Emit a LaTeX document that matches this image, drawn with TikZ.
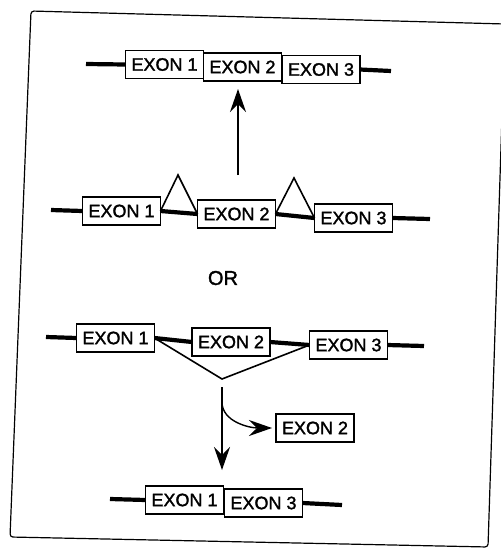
\documentclass[tikz,border=0pt]{standalone}
\usepackage{fontspec}
\setsansfont{Liberation Sans}
\newfontfamily\exonfont{Liberation Sans}[FakeBold=1.6]
\usetikzlibrary{arrows.meta,positioning}

\begin{document}
\begin{tikzpicture}[x=1pt, y=-1pt, font=\exonfont\fontsize{18}{21}\selectfont,
    exon/.style={draw, line width=1.2pt, fill=white, minimum width=78pt,
      minimum height=28pt, inner sep=1pt, outer sep=0pt},
    dna/.style={line width=4.2pt},
    intron/.style={line width=1.6pt, line join=miter},
    arr/.style={line width=1.4pt, -{Stealth[length=23pt, width=16pt, inset=8pt]}}]

    \useasboundingbox (0,0) rectangle (501,550);

    % --- cornice ---
    \draw[line width=1.2pt, rounded corners=3pt] (31,11) -- (505,24) -- (488,547) -- (10,537) -- cycle;

    % --- mRNA maturo (in alto) ---
    \node[exon] (a1) at (164.5,64.5) {EXON 1};
    \node[exon] (a2) at (242.5,67) {EXON 2};
    \node[exon] (a3) at (321,69.5) {EXON 3};
    \coordinate (a0) at (86,64);
    \coordinate (a4) at (391,71);
    \draw[dna] (a0) -- (a1.west);
    \draw[dna] (a3.east) -- (a4);

    % --- pre-mRNA con introni (anse) ---
    \node[exon] (b1) at (121.5,211) {EXON 1};
    \node[exon] (b2) at (236.5,214) {EXON 2};
    \node[exon] (b3) at (353.5,218) {EXON 3};
    \coordinate (b0) at (51,210);
    \coordinate (b4) at (430,219);
    \coordinate (t1) at (178,175);
    \coordinate (t2) at (294,178);
    \draw[dna] (b0) -- (b1.west);
    \draw[dna] (b1.east) -- (b2.west);
    \draw[dna] (b2.east) -- (b3.west);
    \draw[dna] (b3.east) -- (b4);
    \draw[intron] (b1.east) -- (t1) -- (b2.west);
    \draw[intron] (b2.east) -- (t2) -- (b3.west);

    % freccia verso l'alto
    \coordinate (up0) at (238,175);
    \draw[arr, shorten >=8pt] (up0) -- (up0 |- a2.south);

    \node[font=\exonfont\fontsize{20}{24}\selectfont] (or) at (223,278) {OR};

    % --- salto dell'esone 2 ---
    \node[exon] (c1) at (115.5,338) {EXON 1};
    \node[exon] (c2) at (231,342) {EXON 2};
    \node[exon] (c3) at (348.5,345) {EXON 3};
    \coordinate (c0) at (46,337);
    \coordinate (c4) at (424,346);
    \coordinate (v) at (222,379);
    \draw[dna] (c0) -- (c1.west);
    \draw[dna] (c1.east) -- (c2.west);
    \draw[dna] (c2.east) -- (c3.west);
    \draw[dna] (c3.east) -- (c4);
    \draw[intron] (c1.east) -- (v) -- (c3.west);

    % esone rimosso
    \node[exon] (x2) at (315,428) {EXON 2};
    \coordinate (dn0) at (222,387);
    \coordinate (br) at (222,402);
    \draw[arr] (br) .. controls +(0,20) and +(-22,0) .. ([xshift=-4pt]x2.west);

    % --- prodotto senza esone 2 ---
    \node[exon] (d1) at (184.5,500) {EXON 1};
    \node[exon] (d3) at (263.5,503) {EXON 3};
    \coordinate (d0) at (110,499);
    \coordinate (d4) at (342,505);
    \draw[dna] (d0) -- (d1.west);
    \draw[dna] (d3.east) -- (d4);
    \draw[arr, shorten >=16pt] (dn0) -- (dn0 |- d1.north);

\end{tikzpicture}
\end{document}
